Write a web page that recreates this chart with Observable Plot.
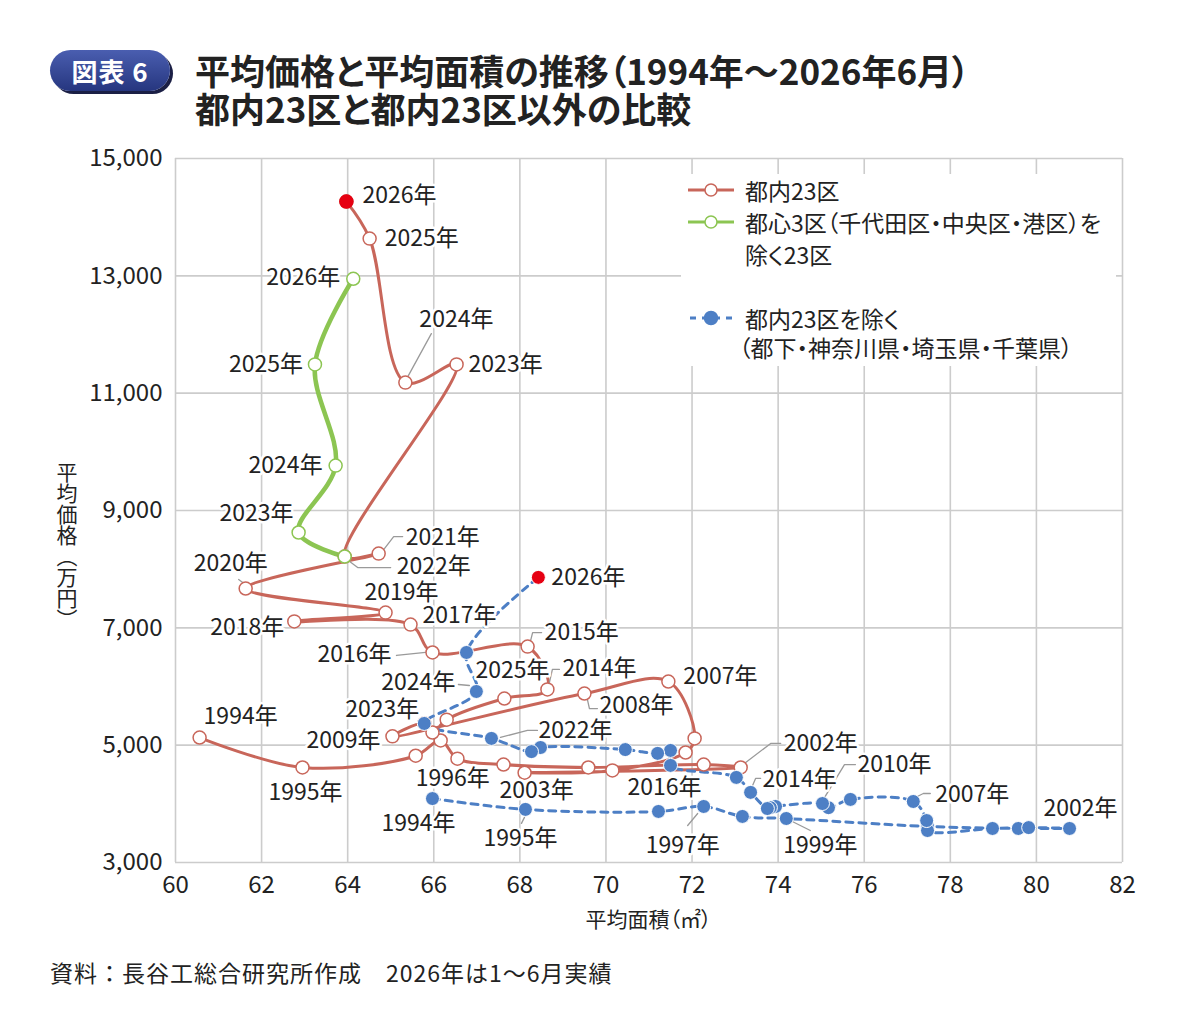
<!DOCTYPE html>
<html><head><meta charset="utf-8">
<script src="https://cdn.jsdelivr.net/npm/d3@7"></script>
<script src="https://cdn.jsdelivr.net/npm/@observablehq/plot@0.6"></script>
<style>
body{margin:0;background:#fff;font-family:"Noto Sans CJK JP","Noto Sans",sans-serif;color:#222;font-feature-settings:"palt";}
#wrap{position:relative;width:1187px;height:1033px;overflow:hidden;}
#badge{position:absolute;left:50px;top:50px;width:120px;height:41px;border-radius:21px;background:linear-gradient(#4a5eb0,#26367f);box-shadow:3px 3px 0 #1b1f45;color:#fff;font-weight:700;font-size:26px;line-height:41px;text-align:center;letter-spacing:1px;}
.title{position:absolute;left:195px;font-weight:700;font-size:35px;line-height:35px;height:35px;color:#222;white-space:nowrap;}
#chart{position:absolute;left:0;top:110px;}
#ylabel{position:absolute;left:55px;top:462px;writing-mode:vertical-rl;font-size:21px;line-height:24px;color:#222;}
#xlabel{position:absolute;left:0;width:1297px;top:903px;text-align:center;font-size:21px;color:#222;}
#caption{position:absolute;left:50px;top:955px;font-size:23px;color:#222;font-feature-settings:normal;letter-spacing:1px;}
#legend{position:absolute;left:681px;top:174px;width:435px;height:192px;background:#fff;}
.lg{position:absolute;left:0;font-size:23px;line-height:28px;color:#222;white-space:nowrap;}
.lg svg{position:absolute;left:7px;top:4px;}
.lg span{position:absolute;left:64px;}
svg text{font-feature-settings:"palt";}
</style></head><body>
<div id="wrap">
<div id="badge">図表 6</div>
<div class="title" style="top:52px">平均価格と平均面積の推移（1994年～2026年6月）</div>
<div class="title" style="top:90px">都内23区と都内23区以外の比較</div>
<div id="chart"></div>
<div id="ylabel">平均価格（万円）</div>
<div id="xlabel">平均面積（㎡）</div>
<div id="legend"></div>
<div id="caption">資料：長谷工総合研究所作成　2026年は1～6月実績</div>
</div>
<script>
// ---- data ----
const years23 = [1994,1995,1996,1997,1998,1999,2000,2001,2002,2003,2004,2005,2006,2007,2008,2009,2010,2011,2012,2013,2014,2015,2016,2017,2018,2019,2020,2021,2022,2023,2024,2025,2026];
const area23  = [60.56,62.95,65.58,66.16,66.55,67.62,69.59,72.27,73.13,68.11,70.15,71.85,72.06,71.45,69.50,65.04,65.78,65.97,66.30,67.64,68.64,68.18,65.97,65.46,62.76,64.88,61.63,64.72,63.93,66.53,65.34,64.51,63.97];
const price23 = [5130,4620,4820,5080,4770,4670,4620,4670,4620,4530,4570,4875,5115,6085,5880,5150,5370,5215,5435,5795,5950,6680,6580,7055,7110,7260,7670,8265,8215,11490,11180,13635,14265];

const yearsCore = [2022,2023,2024,2025,2026];
const areaCore  = [63.93,62.86,63.72,63.24,64.13];
const priceCore = [8215,8625,9765,11490,12950];

const yearsOut = [1994,1995,1996,1997,1998,1999,2000,2001,2002,2003,2004,2005,2006,2007,2008,2009,2010,2011,2012,2013,2014,2015,2016,2017,2018,2019,2020,2021,2022,2023,2024,2025,2026];
const areaOut  = [65.97,68.13,71.22,72.27,73.17,74.19,77.47,79.58,80.77,79.82,78.98,77.47,77.45,77.14,75.68,75.17,75.03,73.94,73.82,73.75,73.36,73.03,71.50,71.50,71.20,70.45,68.48,68.27,67.34,65.78,66.99,66.76,68.43];
const priceOut = [4090,3905,3870,3955,3785,3750,3615,3580,3580,3595,3580,3545,3715,4040,4075,3935,4005,3955,3935,3920,4195,4450,4655,4910,4860,4925,4960,4890,5115,5370,5915,6580,7860];

const xTicks = [60,62,64,66,68,70,72,74,76,78,80,82];
const yTicks = [3000,5000,7000,9000,11000,13000,15000];

const seriesNames = ["都内23区","都心3区（千代田区・中央区・港区）を","除く23区","都内23区を除く","（都下・神奈川県・埼玉県・千葉県）"];

// ---- layout of annotations: [series, year, dx(px), dy(px), anchor, leader offsets(px)] ----
const labelLayout = [
 ["red",2026,16,-6,"start"],
 ["red",2025,15,0,"start"],
 ["red",2024,14,-63,"start",[[3,-7],[26,-49]]],
 ["red",2023,12,0,"start"],
 ["red",2021,27,-16,"start",[[5,-4],[15,-17],[24,-17]]],
 ["red",2022,52,10,"start",[[5,5],[13,11],[46,11]]],
 ["red",2020,-15,-25,"middle",[[-3,-6],[-7,-9]]],
 ["red",2019,16,-20,"middle"],
 ["red",2018,-10,6,"end"],
 ["red",2017,12,-9,"start"],
 ["red",2016,-41,2,"end",[[-7,0],[-36,3]]],
 ["red",2015,17,-14,"start",[[3,-6],[5,-14],[14,-14]]],
 ["red",2014,15,-21,"start",[[2,-7],[5,-20],[12,-20]]],
 ["red",2008,15,12,"start",[[3,6],[5,15],[13,15]]],
 ["red",2007,15,-5,"start"],
 ["red",2009,-12,4,"end"],
 ["red",1994,4,-21,"start"],
 ["red",1995,3,25,"middle"],
 ["red",1996,0,23,"start"],
 ["red",2003,12,18,"middle"],
 ["red",2002,43,-24,"start",[[5,-5],[30,-24],[40,-24]]],
 ["green",2026,-13,-1,"end"],
 ["green",2025,-12,0,"end"],
 ["green",2024,-13,0,"end"],
 ["green",2023,-5,-19,"end"],
 ["blue",2026,13,0,"start"],
 ["blue",2025,9,18,"start"],
 ["blue",2024,-21,-9,"end",[[-18,-7],[-7,-6]]],
 ["blue",2023,-5,-14,"end"],
 ["blue",2022,47,-8,"start",[[9,-1],[36,-8],[46,-8]]],
 ["blue",2016,-6,22,"middle"],
 ["blue",2014,12,-13,"start",[[2,-7],[5,-14],[10,-14]]],
 ["blue",2010,35,-39,"start",[[2,-6],[22,-39],[33,-39]]],
 ["blue",2007,22,-7,"start",[[4,-5],[10,-8],[17,-8]]],
 ["blue",2002,11,-20,"middle"],
 ["blue",1999,-3,27,"start",[[6,3],[24,12]]],
 ["blue",1997,-21,39,"middle",[[-6,7],[-16,19]]],
 ["blue",1995,-5,29,"middle",[[-1,8],[-4,14]]],
 ["blue",1994,-14,25,"middle"]
];

const RED="#c8665a", GREEN="#8cc552", BLUE="#4d7fc5", HOT="#e60012";

const rows = (ys, xs, ps, s) => ys.map((y,i)=>({year:y, area:xs[i], price:ps[i], s}));
const data = {
  red: rows(years23, area23, price23, "red"),
  green: rows(yearsCore, areaCore, priceCore, "green"),
  blue: rows(yearsOut, areaOut, priceOut, "blue")
};

const W=1187, H=822, mL=175, mR=65, mT=48, mB=70;
const kx=(W-mL-mR)/(82-60), ky=(H-mT-mB)/(15000-3000);
const off = (p,dx,dy)=>({area:p.area+dx/kx, price:p.price-dy/ky});

const labels=[], leaders=[];
labelLayout.forEach(([s,yr,dx,dy,anchor,lead],i)=>{
  const p = data[s].find(d=>d.year===yr);
  labels.push({...off(p,dx,dy), text: yr+"年", anchor});
  if (lead) lead.forEach(([ox,oy])=>leaders.push({...off(p,ox,oy), id:i}));
});

const isLast = d => d.year===2026;
const chart = Plot.plot({
  width:W, height:H, marginLeft:mL, marginRight:mR, marginTop:mT, marginBottom:mB,
  style:{fontFamily:'"Noto Sans CJK JP","Noto Sans",sans-serif', fontSize:"23px", color:"#222", background:"transparent"},
  x:{domain:[60,82], label:null},
  y:{domain:[3000,15000], label:null},
  marks:[
    Plot.gridX(xTicks,{stroke:"#cccccc", strokeOpacity:1, strokeWidth:1.6}),
    Plot.gridY(yTicks,{stroke:"#cccccc", strokeOpacity:1, strokeWidth:1.6}),
    Plot.axisX(xTicks,{tickSize:0, tickPadding:13, tickFormat:d=>String(d), fontSize:24, label:null}),
    Plot.axisY(yTicks,{tickSize:0, tickPadding:13, tickFormat:d3.format(","), fontSize:24, label:null}),
    Plot.line(data.red,{x:"area", y:"price", curve:"catmull-rom", stroke:RED, strokeWidth:3}),
    Plot.line(data.green,{x:"area", y:"price", curve:"catmull-rom", stroke:GREEN, strokeWidth:4.5}),
    Plot.line(data.blue,{x:"area", y:"price", curve:"catmull-rom", stroke:BLUE, strokeWidth:3, strokeDasharray:"7,6"}),
    Plot.line(leaders,{x:"area", y:"price", z:"id", stroke:"#9a9a9a", strokeWidth:1.3}),
    Plot.dot(data.red,{x:"area", y:"price", r:6.5, stroke:RED, strokeWidth:1.5, fill:d=>isLast(d)?HOT:"white"}),
    Plot.dot(data.red.filter(isLast),{x:"area", y:"price", r:6.5, fill:HOT, stroke:HOT}),
    Plot.dot(data.green,{x:"area", y:"price", r:6.5, stroke:GREEN, strokeWidth:1.5, fill:"white"}),
    Plot.dot(data.blue,{x:"area", y:"price", r:7, fill:d=>isLast(d)?HOT:BLUE, stroke:"white", strokeWidth:1}),
    ...["start","middle","end"].map(a=>Plot.text(labels.filter(d=>d.anchor===a),{x:"area", y:"price", text:"text", textAnchor:a, fontSize:23, fill:"#222", stroke:"white", strokeWidth:5}))
  ]
});
document.getElementById("chart").appendChild(chart);

// legend
const lg = document.getElementById("legend");
const sym = (color, dashed, filled, width) => `<svg width="50" height="20"><line x1="0" y1="10" x2="46" y2="10" stroke="${color}" stroke-width="${width}" ${dashed?'stroke-dasharray="6,6" stroke-dashoffset="-2"':''}/><circle cx="23" cy="10" r="${filled?6.5:6}" fill="${filled?color:'white'}" stroke="${color}" stroke-width="1.5"/></svg>`;
const items = [
  {top:2, html: sym(RED,false,false,3) + `<span>${seriesNames[0]}</span>`},
  {top:34, html: sym(GREEN,false,false,3) + `<span>${seriesNames[1]}</span>`},
  {top:66, html: `<span>${seriesNames[2]}</span>`},
  {top:130, html: sym(BLUE,true,true,3) + `<span>${seriesNames[3]}</span>`},
  {top:159, html: `<span style="left:58px">${seriesNames[4]}</span>`}
];
items.forEach(it=>{ const d=document.createElement("div"); d.className="lg"; d.style.top=it.top+"px"; d.style.height="28px"; d.style.width="435px"; d.innerHTML=it.html; lg.appendChild(d); });
</script>
</body></html>
